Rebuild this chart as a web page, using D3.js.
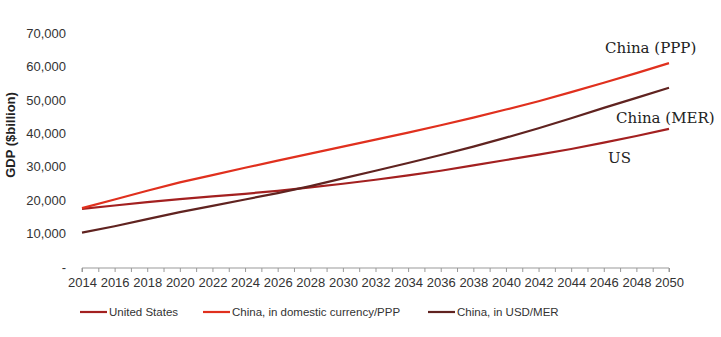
<!DOCTYPE html>
<html>
<head>
<meta charset="utf-8">
<script src="https://cdn.jsdelivr.net/npm/d3@7"></script>
<style>
  body { margin: 0; background: #fff; }
  text { font-family: "Liberation Sans", Arial, sans-serif; }
</style>
</head>
<body>
<div id="chart"></div>
<script>
//data ($billion)
const years = [2014, 2016, 2018, 2020, 2022, 2024, 2026, 2028, 2030, 2032, 2034, 2036, 2038, 2040, 2042, 2044, 2046, 2048, 2050];
const usGdp = [17400, 18400, 19400, 20300, 21100, 21900, 22800, 23800, 24900, 26100, 27400, 28800, 30400, 32000, 33600, 35300, 37200, 39200, 41300];
const chinaPpp = [17600, 20200, 22800, 25300, 27500, 29700, 31800, 33900, 36000, 38100, 40200, 42400, 44700, 47100, 49600, 52300, 55100, 58000, 61000];
const chinaMer = [10300, 12200, 14300, 16400, 18300, 20200, 22100, 24200, 26500, 28800, 31100, 33500, 36000, 38700, 41500, 44500, 47600, 50600, 53600];
const yTicks = [0, 10000, 20000, 30000, 40000, 50000, 60000, 70000];

const seriesNames = ["United States", "China, in domestic currency/PPP", "China, in USD/MER"];
const seriesColors = ["#a32020", "#e0301e", "#602320"];
const endLabels = ["US", "China (PPP)", "China (MER)"];

const width = 721, height = 337;
const margin = { left: 82, right: 52, top: 33, bottom: 70 };

const svg = d3.select("#chart").append("svg")
  .attr("width", width)
  .attr("height", height);

const x = d3.scaleLinear()
  .domain([2014, 2050])
  .range([margin.left, width - margin.right]);

const y = d3.scaleLinear()
  .domain([0, 70000])
  .range([height - margin.bottom, margin.top]);

/*----------------------
AXES
----------------------*/
const fmt = d3.format(",");

const yAxis = svg.append("g")
  .attr("transform", `translate(70,0)`)
  .call(d3.axisLeft(y).tickValues(yTicks).tickSize(0).tickPadding(4)
    .tickFormat(d => d === 0 ? "-" : fmt(d)));
yAxis.select(".domain").remove();
yAxis.selectAll("text")
  .style("font-size", "13px")
  .attr("fill", "#333");

const xAxis = svg.append("g")
  .attr("transform", `translate(0,${y(0) + 1})`)
  .call(d3.axisBottom(x).tickValues(d3.range(2014, 2051)).tickSize(4).tickPadding(6)
    .tickFormat(d => d % 2 === 0 ? d : ""));
xAxis.select(".domain").attr("stroke", "#999").attr("d", `M${x(2014)},4V0H${x(2050)}V4`);
xAxis.selectAll(".tick line").attr("stroke", "#999");
xAxis.selectAll("text")
  .style("font-size", "13px")
  .attr("fill", "#333");

svg.append("text")
  .attr("transform", `translate(15,135) rotate(-90)`)
  .attr("text-anchor", "middle")
  .style("font-size", "13px")
  .style("font-weight", "bold")
  .attr("fill", "#222")
  .text("GDP ($billion)");

/*----------------------
LINES
----------------------*/
const line = d3.line()
  .x((d, i) => x(years[i]))
  .y(d => y(d));

[usGdp, chinaPpp, chinaMer].forEach((vals, k) => {
  svg.append("path")
    .attr("d", line(vals))
    .attr("fill", "none")
    .attr("stroke", seriesColors[k])
    .attr("stroke-width", 2.2);
});

//annotations at the right end
const labelPos = [[608, 163], [605, 53], [616, 123]];
endLabels.forEach((t, k) => {
  svg.append("text")
    .attr("x", labelPos[k][0])
    .attr("y", labelPos[k][1])
    .style("font-family", "'DejaVu Serif', Georgia, serif")
    .style("font-size", "15px")
    .attr("fill", "#222")
    .text(t);
});

/*----------------------
LEGEND
----------------------*/
const legendX = [80, 203, 428];
seriesNames.forEach((name, k) => {
  const g = svg.append("g").attr("transform", `translate(${legendX[k]},312)`);
  g.append("line")
    .attr("x1", 0).attr("x2", 27)
    .attr("stroke", seriesColors[k])
    .attr("stroke-width", 2.2);
  g.append("text")
    .attr("x", 29)
    .attr("dy", "0.35em")
    .style("font-size", "11.5px")
    .attr("fill", "#333")
    .text(name);
});
</script>
</body>
</html>
